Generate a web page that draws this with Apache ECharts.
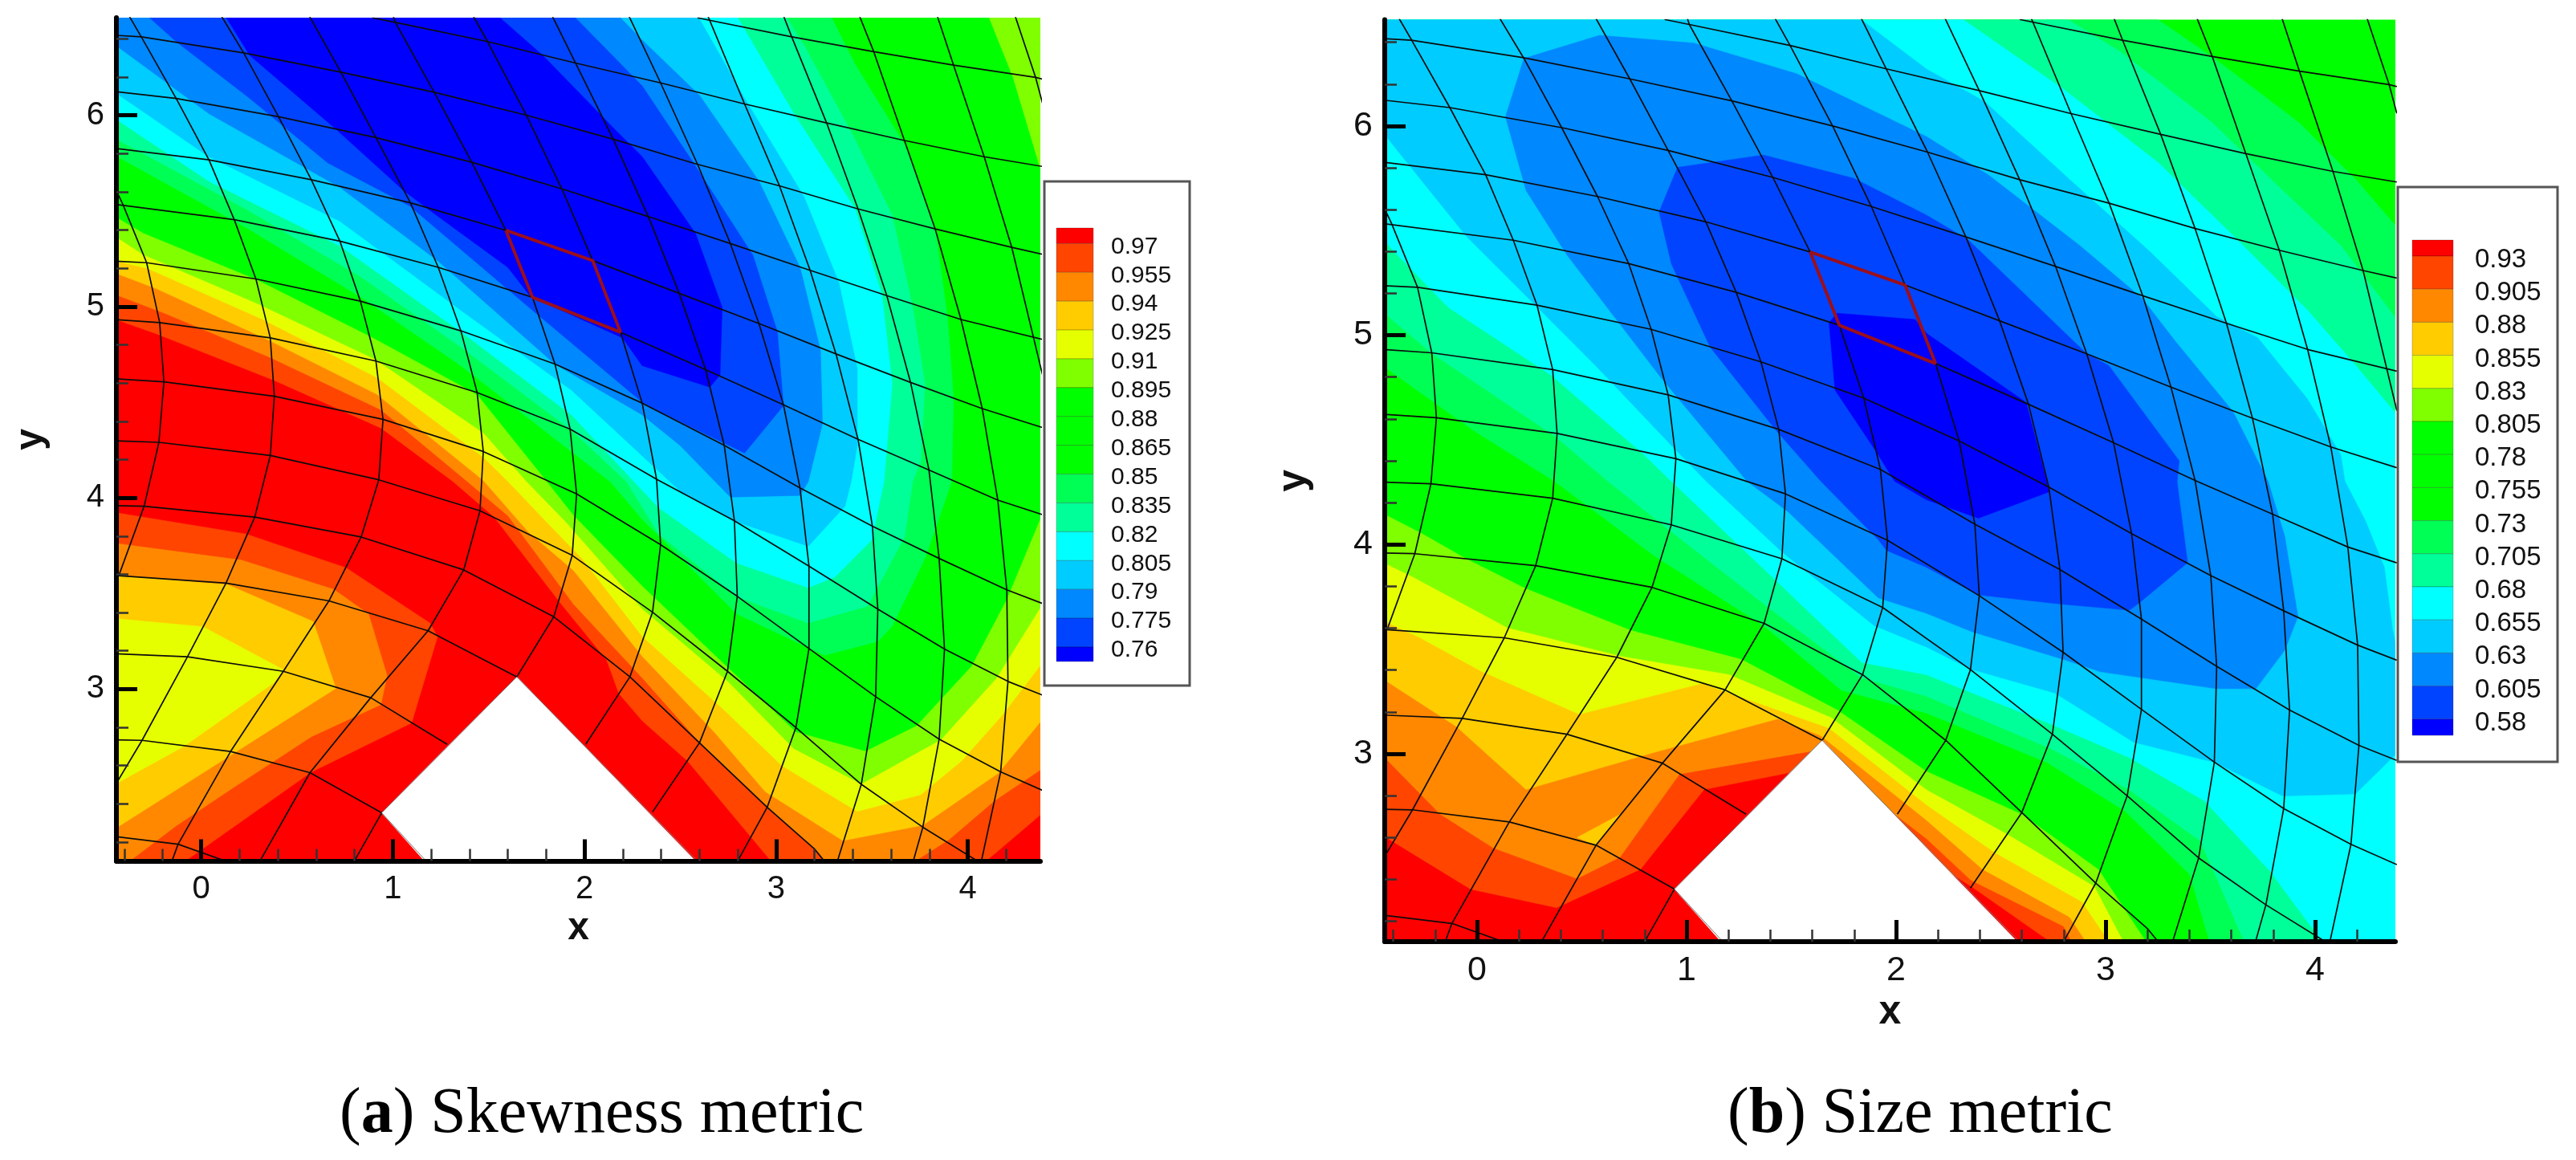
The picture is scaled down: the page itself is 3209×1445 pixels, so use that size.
<!DOCTYPE html>
<html><head><meta charset="utf-8">
<style>html,body{margin:0;padding:0;background:#fff}#c{width:3209px;height:1445px}</style>
<script src="https://cdn.jsdelivr.net/npm/echarts@6/dist/echarts.min.js"></script>
</head><body><div id="c"></div>
<script>
// ---------- categories / tick labels ----------
const xTicks=[0,1,2,3,4], yTicks=[3,4,5,6];
const xMinor=[-0.4,-0.2,0.2,0.4,0.6,0.8,1.2,1.4,1.6,1.8,2.2,2.4,2.6,2.8,3.2,3.4,3.6,3.8,4.2];
const yMinor=[2.2,2.4,2.6,2.8,3.2,3.4,3.6,3.8,4.2,4.4,4.6,4.8,5.2,5.4,5.6,5.8,6.2,6.4];
const skewLevels=['0.97','0.955','0.94','0.925','0.91','0.895','0.88','0.865','0.85','0.835','0.82','0.805','0.79','0.775','0.76'];
const sizeLevels=['0.93','0.905','0.88','0.855','0.83','0.805','0.78','0.755','0.73','0.705','0.68','0.655','0.63','0.605','0.58'];
const bandColors=['#ff0000','#ff4500','#ff8800','#ffcc00','#e6ff00','#80ff00','#00ff00','#00ff00','#00ff00','#00ff55','#00ff99','#00ffff','#00ccff','#0088ff','#0044ff','#0000ff'];

// ---------- mesh in data units (x,y) ----------
const meshH=[
[[2.590,6.509],[3.081,6.410],[3.509,6.332],[3.925,6.262],[4.353,6.198],[4.390,6.188]],
[[0.895,6.509],[1.013,6.485],[1.494,6.385],[1.953,6.273],[2.397,6.169],[2.835,6.059],[3.263,5.960],[3.669,5.868],[4.085,5.783],[4.390,5.732]],
[[-0.45,6.418],[-0.312,6.410],[0.222,6.326],[0.729,6.225],[1.216,6.120],[1.697,6.000],[2.150,5.875],[2.590,5.743],[3.017,5.631],[3.427,5.510],[3.829,5.406],[4.229,5.309],[4.390,5.273]],
[[-0.45,6.124],[-0.130,6.088],[0.404,5.992],[0.912,5.883],[1.412,5.754],[1.882,5.615],[2.333,5.470],[2.761,5.329],[3.177,5.189],[3.577,5.057],[3.964,4.932],[4.390,4.828]],
[[-0.45,5.827],[0.041,5.767],[0.575,5.663],[1.092,5.542],[1.590,5.398],[2.043,5.240],[2.494,5.069],[2.910,4.911],[3.312,4.752],[3.701,4.603],[4.075,4.466],[4.390,4.367]],
[[-0.45,5.534],[0.173,5.454],[0.724,5.342],[1.237,5.205],[1.729,5.048],[2.188,4.865],[2.632,4.670],[3.038,4.486],[3.427,4.306],[3.797,4.145],[4.156,3.988],[4.390,3.912]],
[[-0.45,5.237],[-0.284,5.229],[0.286,5.144],[0.831,5.028],[1.355,4.873],[1.846,4.699],[2.301,4.495],[2.729,4.274],[3.124,4.052],[3.502,3.851],[3.850,3.683],[4.203,3.519],[4.390,3.447]],
[[-0.45,4.932],[-0.216,4.916],[0.361,4.836],[0.912,4.715],[1.440,4.550],[1.925,4.359],[2.376,4.097],[2.782,3.880],[3.171,3.643],[3.530,3.418],[3.878,3.209],[4.209,3.040],[4.390,2.968]],
[[-0.45,4.622],[-0.194,4.606],[0.382,4.531],[0.949,4.410],[1.472,4.242],[1.959,4.020],[2.397,3.755],[2.797,3.485],[3.171,3.212],[3.519,2.960],[3.850,2.738],[4.171,2.567],[4.390,2.470]],
[[-0.45,4.298],[-0.220,4.290],[0.361,4.221],[0.927,4.094],[1.455,3.932],[1.936,3.699],[2.355,3.402],[2.746,3.093],[3.103,2.799],[3.444,2.502],[3.765,2.278],[4.068,2.09]],
[[-0.45,3.959],[-0.297,3.956],[0.280,3.899],[0.835,3.795],[1.370,3.623],[1.840,3.378],[2.237,3.064],[2.600,2.719],[2.953,2.382],[3.199,2.165],[3.260,2.09]],
[[-0.45,3.594],[0.130,3.554],[0.667,3.461],[1.184,3.305],[1.647,3.064]],
[[-0.45,3.185],[-0.071,3.169],[0.429,3.093],[0.885,2.955],[1.284,2.711]],
[[-0.45,2.735],[-0.308,2.732],[0.154,2.674],[0.568,2.563],[0.942,2.353]],
[[-0.45,2.229],[-0.120,2.189],[0.158,2.09]]
];
const meshV=[
[[-0.45,5.623],[-0.408,5.534],[-0.284,5.229],[-0.216,4.916],[-0.194,4.606],[-0.220,4.290],[-0.297,3.956],[-0.429,3.594]],
[[-0.376,6.52],[-0.312,6.410],[-0.130,6.088],[0.041,5.767],[0.173,5.454],[0.286,5.144],[0.361,4.836],[0.382,4.531],[0.361,4.221],[0.280,3.899],[0.130,3.554],[-0.071,3.169],[-0.308,2.732],[-0.45,2.494]],
[[0.105,6.52],[0.222,6.326],[0.404,5.992],[0.575,5.663],[0.724,5.342],[0.831,5.028],[0.912,4.715],[0.949,4.410],[0.927,4.094],[0.835,3.795],[0.667,3.461],[0.429,3.093],[0.154,2.674],[-0.120,2.189],[-0.156,2.09]],
[[0.564,6.52],[0.729,6.225],[0.912,5.883],[1.092,5.542],[1.237,5.205],[1.355,4.873],[1.440,4.550],[1.472,4.242],[1.455,3.932],[1.370,3.623],[1.184,3.305],[0.885,2.955],[0.568,2.563],[0.301,2.09]],
[[1.002,6.52],[1.013,6.485],[1.216,6.120],[1.412,5.754],[1.590,5.398],[1.729,5.048],[1.846,4.699],[1.925,4.359],[1.959,4.020],[1.936,3.699],[1.840,3.378],[1.647,3.064]],
[[0.942,2.353],[0.793,2.09]],
[[1.419,6.52],[1.494,6.385],[1.697,6.000],[1.882,5.615],[2.043,5.240],[2.188,4.865],[2.301,4.495],[2.376,4.097],[2.397,3.755],[2.355,3.402],[2.237,3.064],[2.006,2.711]],
[[1.831,6.52],[1.953,6.273],[2.150,5.875],[2.333,5.470],[2.494,5.069],[2.632,4.670],[2.729,4.274],[2.782,3.880],[2.797,3.485],[2.746,3.093],[2.600,2.719],[2.355,2.358]],
[[2.231,6.52],[2.397,6.169],[2.590,5.743],[2.761,5.329],[2.910,4.911],[3.038,4.486],[3.124,4.052],[3.171,3.643],[3.171,3.212],[3.103,2.799],[2.953,2.382],[2.793,2.09]],
[[2.643,6.52],[2.835,6.059],[3.017,5.631],[3.177,5.189],[3.312,4.752],[3.427,4.306],[3.502,3.851],[3.530,3.418],[3.519,2.960],[3.444,2.502],[3.316,2.09]],
[[3.038,6.52],[3.081,6.410],[3.263,5.960],[3.427,5.510],[3.577,5.057],[3.701,4.603],[3.797,4.145],[3.850,3.683],[3.878,3.209],[3.850,2.738],[3.765,2.278],[3.712,2.09]],
[[3.434,6.52],[3.509,6.332],[3.669,5.868],[3.829,5.406],[3.964,4.932],[4.075,4.466],[4.156,3.988],[4.203,3.519],[4.209,3.040],[4.171,2.567],[4.068,2.09]],
[[3.840,6.52],[3.925,6.262],[4.085,5.783],[4.229,5.309],[4.390,4.640]],
[[4.246,6.52],[4.353,6.198],[4.390,6.060]]
];
const studiedCell=[[1.590,5.398],[2.043,5.240],[2.188,4.865],[1.729,5.048],[1.590,5.398]];
const wallHole=[[0.942,2.353],[1.647,3.064],[2.590,2.09],[1.175,2.09]];
const wallEdge=[[1.175,2.10],[0.942,2.353],[1.647,3.064],[2.590,2.10]];
const domainRect=[[-0.45,6.52],[4.39,6.52],[4.39,2.09],[-0.45,2.09]];

// ---------- skewness contour bands (x,y) ----------
const skew855=[[-0.45,6.52],[3.284,6.52],[3.412,6.265],[3.669,5.847],[3.829,5.406],[3.893,4.948],[3.925,4.515],[3.915,4.084],[3.776,3.683],[3.605,3.329],[3.530,3.249],[3.252,3.177],[3.167,3.217],[2.793,3.394],[2.301,3.888],[2.135,4.084],[1.932,4.242],[1.355,4.691],[0.842,5.044],[0.233,5.414],[-0.45,5.791]];
const skew840=[[-0.45,6.52],[3.049,6.52],[3.156,6.345],[3.391,5.912],[3.605,5.478],[3.712,4.996],[3.776,4.595],[3.754,4.193],[3.712,4.084],[3.669,3.795],[3.476,3.434],[3.167,3.346],[2.793,3.483],[2.387,3.811],[2.220,4.084],[1.932,4.354],[1.355,4.788],[0.831,5.157],[0.233,5.510],[-0.45,5.880]];
const skew825=[[-0.45,6.52],[2.793,6.52],[3.092,6.008],[3.412,5.510],[3.551,5.061],[3.605,4.595],[3.562,4.084],[3.498,3.779],[3.306,3.586],[3.167,3.530],[2.793,3.659],[2.387,3.948],[1.932,4.434],[1.355,4.868],[0.724,5.317],[0.041,5.655],[-0.45,5.984]];
const skew810=[[-0.45,6.52],[2.590,6.52],[2.835,6.088],[3.145,5.574],[3.327,5.125],[3.423,4.675],[3.423,4.274],[3.391,4.084],[3.359,3.956],[3.167,3.747],[2.793,3.875],[2.515,4.020],[1.932,4.563],[1.355,4.980],[0.724,5.446],[0.041,5.783],[-0.45,6.120]];
const skew795=[[-0.45,6.52],[2.177,6.52],[2.301,6.393],[2.600,6.104],[2.910,5.655],[3.124,5.205],[3.231,4.771],[3.241,4.386],[3.167,4.084],[3.124,4.012],[2.761,4.004],[2.498,4.274],[2.301,4.434],[1.846,4.699],[1.237,5.237],[0.724,5.623],[0.041,6.008],[-0.45,6.369]];
const skew780=[[-0.28,6.52],[1.942,6.52],[2.301,6.153],[2.568,5.751],[2.878,5.269],[3.006,4.868],[3.038,4.482],[2.835,4.234],[2.323,4.482],[1.729,4.980],[1.088,5.526],[0.660,5.751],[0.254,6.088],[-0.130,6.385]];
const skew765=[[0.126,6.52],[1.547,6.52],[1.782,6.313],[2.156,5.928],[2.301,5.783],[2.579,5.382],[2.718,4.996],[2.707,4.643],[2.654,4.579],[2.301,4.691],[2.199,4.836],[1.718,5.053],[1.600,5.205],[1.216,5.486],[1.056,5.607],[0.703,5.928],[0.254,6.313]];
const skewLimeCorner=[[4.107,6.52],[4.235,6.201],[4.374,5.735],[4.39,5.687],[4.39,6.52]];
const skewLime=[[-0.45,5.470],[-0.301,5.382],[0.286,5.141],[0.895,4.836],[1.440,4.539],[1.803,4.084],[1.942,3.908],[2.301,3.538],[2.739,3.120],[3.103,2.775],[3.466,2.674],[3.733,2.807],[3.872,2.959],[4.021,3.120],[4.203,3.466],[4.39,3.916],[4.39,2.09],[-0.45,2.09]];
const skewYellow=[[-0.45,5.366],[-0.301,5.269],[0.297,5.012],[0.906,4.723],[1.472,4.338],[1.697,4.084],[1.900,3.875],[2.301,3.418],[2.746,3.040],[3.092,2.687],[3.444,2.502],[3.861,2.735],[4.150,3.056],[4.39,3.442],[4.39,2.09],[-0.45,2.09]];
const skewGold=[[-0.45,5.237],[-0.280,5.197],[0.318,4.932],[0.917,4.627],[1.472,4.210],[1.600,4.084],[1.814,3.859],[1.985,3.683],[2.301,3.273],[2.729,2.888],[3.028,2.599],[3.423,2.358],[3.754,2.446],[3.968,2.623],[4.182,2.864],[4.39,3.137],[4.39,2.09],[-0.45,2.09]];
const skewOrange=[[-0.45,5.173],[-0.237,5.093],[0.340,4.828],[0.917,4.539],[1.472,4.089],[1.707,3.819],[1.942,3.619],[2.301,3.169],[2.675,2.775],[2.942,2.462],[3.348,2.205],[3.765,2.286],[4.160,2.559],[4.39,2.840],[4.39,2.09],[-0.45,2.09]];
const skewDeep=[[-0.45,5.061],[-0.194,4.964],[0.361,4.731],[0.938,4.458],[1.387,4.084],[1.600,3.904],[1.942,3.442],[2.301,3.056],[2.600,2.719],[2.953,2.382],[3.199,2.165],[3.255,2.09],[-0.45,2.09]];
const skewDeepRight=[[3.712,2.09],[3.904,2.213],[4.139,2.414],[4.39,2.583],[4.39,2.09]];
const skewRed=[[-0.45,4.932],[-0.226,4.852],[0.382,4.611],[0.938,4.362],[1.312,4.084],[1.526,3.900],[1.878,3.442],[2.113,3.153],[2.177,2.976],[2.301,2.832],[2.536,2.623],[2.980,2.09],[-0.45,2.09]];
const skewRedRight=[[4.085,2.09],[4.39,2.350],[4.39,2.09]];
const skewPocketDeep=[[-0.45,3.923],[0.233,3.811],[0.756,3.634],[1.194,3.345],[1.233,3.273],[1.098,2.823],[0.575,2.566],[-0.098,2.09],[-0.45,2.09]];
const skewPocketOrange=[[-0.45,3.762],[0.211,3.674],[0.692,3.521],[0.874,3.392],[0.970,3.071],[0.938,2.919],[0.575,2.751],[0.158,2.478],[-0.130,2.285],[-0.387,2.09],[-0.45,2.09]];
const skewPocketGold=[[-0.45,3.594],[0.137,3.546],[0.585,3.353],[0.703,3.004],[0.179,2.670],[-0.45,2.269]];
const skewPocketYellow=[[-0.45,3.369],[0.009,3.326],[0.429,3.101],[0.378,3.032],[-0.088,2.702],[-0.45,2.502]];

// ---------- size contour bands (x,y) ----------
const size718=[[-0.45,6.52],[3.232,6.52],[3.509,6.330],[3.924,6.015],[4.201,5.736],[4.39,5.516],[4.39,2.09],[3.50,2.09],[3.401,2.424],[3.094,2.725],[2.719,2.959],[2.145,3.194],[1.739,3.304],[1.367,3.613],[0.840,3.950],[0.370,4.302],[-0.02,4.547],[-0.45,4.855]];
const size693=[[-0.45,6.52],[2.801,6.52],[3.074,6.352],[3.509,6.015],[3.845,5.692],[4.122,5.428],[4.39,5.075],[4.39,2.09],[3.667,2.09],[3.529,2.409],[3.450,2.585],[3.114,2.827],[2.738,3.025],[2.145,3.275],[1.837,3.363],[1.407,3.686],[0.938,4.053],[0.625,4.302],[0.371,4.518],[-0.216,4.914],[-0.45,5.112]];
const size668=[[-0.45,6.52],[2.303,6.52],[2.798,6.176],[3.252,5.824],[3.628,5.457],[3.964,5.119],[4.181,4.870],[4.39,4.620],[4.39,2.09],[4.043,2.09],[3.786,2.438],[3.470,2.776],[3.114,2.981],[2.738,3.142],[2.145,3.378],[1.837,3.436],[1.407,3.847],[0.928,4.302],[0.781,4.444],[0.351,4.811],[-0.138,5.134],[-0.45,5.457]];
const size643=[[-0.45,6.52],[1.817,6.52],[2.145,6.272],[2.422,6.117],[2.837,5.736],[3.213,5.398],[3.529,5.090],[3.727,4.987],[3.964,4.694],[4.122,4.429],[4.142,4.302],[4.241,4.111],[4.330,3.891],[4.369,3.598],[4.39,3.495],[4.39,3.003],[4.192,2.808],[3.845,2.798],[3.519,2.959],[3.134,3.055],[2.758,3.290],[2.357,3.404],[2.145,3.510],[1.895,3.613],[1.455,3.965],[1.094,4.302],[0.928,4.473],[0.566,4.855],[0.273,5.149],[-0.05,5.472],[-0.333,5.824],[-0.45,5.971]];
const size618=[[0.136,6.044],[0.224,6.323],[0.585,6.433],[1.035,6.396],[1.524,6.250],[2.145,5.949],[2.442,5.765],[2.877,5.428],[3.173,5.178],[3.331,4.973],[3.608,4.635],[3.776,4.300],[3.855,4.038],[3.918,3.656],[3.855,3.495],[3.717,3.311],[3.529,3.311],[2.976,3.392],[2.798,3.451],[2.363,3.583],[2.145,3.671],[1.915,3.745],[1.485,4.156],[1.289,4.302],[0.879,4.796],[0.429,5.384],[0.234,5.692]];
const size593=[[0.957,5.802],[1.367,5.861],[1.797,5.750],[2.145,5.574],[2.343,5.457],[2.907,4.914],[3.015,4.855],[3.351,4.400],[3.341,4.300],[3.391,3.913],[3.163,3.723],[3.114,3.686],[2.788,3.715],[2.393,3.759],[2.145,3.891],[1.954,3.972],[1.915,4.023],[1.641,4.302],[1.426,4.547],[1.113,4.943],[0.928,5.340],[0.869,5.589]];
const size568=[[1.680,5.061],[1.719,5.105],[2.091,5.075],[2.145,5.009],[2.620,4.679],[2.719,4.300],[2.729,4.251],[2.393,4.126],[2.145,4.214],[1.993,4.302],[1.905,4.444],[1.709,4.738]];
const sizeLime=[[-0.45,4.148],[-0.265,4.053],[-0.059,3.935],[0.234,3.788],[0.732,3.590],[1.260,3.451],[1.719,3.209],[2.145,2.915],[2.600,2.710],[2.966,2.446],[3.200,2.09],[-0.45,2.09]];
const sizeYellow=[[-0.45,3.913],[-0.313,3.847],[0.145,3.601],[0.683,3.466],[1.201,3.378],[1.690,3.172],[2.145,2.827],[2.531,2.614],[2.946,2.365],[3.090,2.09],[-0.45,2.09]];
const sizeGold=[[-0.45,3.635],[-0.275,3.554],[0.019,3.393],[0.488,3.187],[1.074,3.334],[1.680,3.121],[2.145,2.754],[2.471,2.526],[2.887,2.291],[3.022,2.09],[-0.45,2.09]];
const sizeOrange=[[-0.45,3.356],[-0.099,3.128],[0.234,2.827],[0.840,3.003],[1.436,3.165],[1.641,3.084],[2.145,2.680],[2.412,2.446],[2.827,2.218],[2.912,2.09],[-0.45,2.09]];
const sizeDeep=[[-0.45,2.989],[-0.177,2.710],[0.077,2.548],[0.478,2.401],[0.683,2.504],[0.967,2.901],[1.602,3.011],[2.145,2.592],[2.357,2.394],[2.798,2.174],[2.842,2.09],[-0.45,2.09]];
const sizeRed=[[-0.45,2.607],[-0.030,2.350],[0.380,2.262],[0.781,2.446],[1.084,2.827],[1.494,2.908],[2.357,2.365],[2.750,2.09],[-0.45,2.09]];
const sizePocketGold=[[0.478,2.600],[0.683,2.710],[0.566,2.563]];

// ---------- layers: painted in order, lowest band first ----------
const C={blue:'#0000ff',b1:'#0044ff',b2:'#0088ff',b3:'#00ccff',cy:'#00ffff',s1:'#00ff99',s2:'#00ff55',g:'#00ff00',l:'#80ff00',y:'#e6ff00',au:'#ffcc00',o:'#ff8800',d:'#ff4500',r:'#ff0000',w:'#ffffff'};
const skewLayers=[[domainRect,C.g],[skew855,C.s2],[skew840,C.s1],[skew825,C.cy],[skew810,C.b3],[skew795,C.b2],[skew780,C.b1],[skew765,C.blue],[skewLimeCorner,C.l],[skewLime,C.l],[skewYellow,C.y],[skewGold,C.au],[skewOrange,C.o],[skewDeep,C.d],[skewDeepRight,C.d],[skewRed,C.r],[skewRedRight,C.r],[skewPocketDeep,C.d],[skewPocketOrange,C.o],[skewPocketGold,C.au],[skewPocketYellow,C.y],[wallHole,C.w]];
const sizeLayers=[[domainRect,C.g],[size718,C.s2],[size693,C.s1],[size668,C.cy],[size643,C.b3],[size618,C.b2],[size593,C.b1],[size568,C.blue],[sizeLime,C.l],[sizeYellow,C.y],[sizeGold,C.au],[sizeOrange,C.o],[sizeDeep,C.d],[sizePocketGold,C.au],[sizeRed,C.r],[wallHole,C.w]];

const FONT='"Liberation Sans",Arial,sans-serif';
const plots=[
 {grid:{left:145,top:22,width:1151,height:1050.6},x:[-0.4418,4.378],y:[2.101,6.51],font:40,nameFont:48,xGap:54,yGap:82,layers:skewLayers},
 {grid:{left:1725,top:24.5,width:1259,height:1148.5},x:[-0.4406,4.383],y:[2.102,6.508],font:43,nameFont:50,xGap:56,yGap:88,layers:sizeLayers}
];
const grids=[],xAxes=[],yAxes=[],series=[];
plots.forEach((p,k)=>{
  grids.push(Object.assign({containLabel:false,show:false},p.grid));
  const line={show:true,onZero:false,lineStyle:{color:'#000',width:6}};
  xAxes.push({gridIndex:k,type:'value',position:'bottom',min:p.x[0],max:p.x[1],z:10,splitLine:{show:false},axisLine:line,
    axisTick:{show:true,inside:true,length:27,lineStyle:{color:'#000',width:5},customValues:xTicks},
    axisLabel:{show:true,margin:15,color:'#111',fontSize:p.font,fontFamily:FONT,customValues:xTicks,formatter:v=>String(v)},
    name:'x',nameLocation:'middle',nameGap:p.xGap,nameTextStyle:{fontSize:p.nameFont,fontWeight:'bold',fontFamily:FONT,color:'#111'}});
  xAxes.push({gridIndex:k,type:'value',position:'bottom',min:p.x[0],max:p.x[1],z:10,splitLine:{show:false},axisLine:{show:false,onZero:false},
    axisTick:{show:true,inside:true,length:15,lineStyle:{color:'#333',width:2.5},customValues:xMinor},axisLabel:{show:false}});
  yAxes.push({gridIndex:k,type:'value',position:'left',min:p.y[0],max:p.y[1],z:10,splitLine:{show:false},axisLine:line,
    axisTick:{show:true,inside:true,length:26,lineStyle:{color:'#000',width:5},customValues:yTicks},
    axisLabel:{show:true,margin:15,color:'#111',fontSize:p.font,fontFamily:FONT,customValues:yTicks,formatter:v=>String(v)},
    name:'y',nameLocation:'middle',nameGap:p.yGap,nameTextStyle:{fontSize:p.nameFont,fontWeight:'bold',fontFamily:FONT,color:'#111'}});
  yAxes.push({gridIndex:k,type:'value',position:'left',min:p.y[0],max:p.y[1],z:10,splitLine:{show:false},axisLine:{show:false,onZero:false},
    axisTick:{show:true,inside:true,length:15,lineStyle:{color:'#333',width:2.5},customValues:yMinor},axisLabel:{show:false}});
  const xi=k*2,yi=k*2;
  series.push({type:'custom',xAxisIndex:xi,yAxisIndex:yi,coordinateSystem:'cartesian2d',clip:true,silent:true,animation:false,z:2,
    data:p.layers.map((l,i)=>[l[0][0][0],l[0][0][1],i]),
    renderItem:(params,api)=>{const l=p.layers[params.dataIndex];
      return {type:'polygon',shape:{points:l[0].map(q=>api.coord(q))},style:{fill:l[1],stroke:l[1],lineWidth:0.6}};}});
  meshH.concat(meshV).forEach(m=>series.push({type:'line',xAxisIndex:xi,yAxisIndex:yi,data:m,showSymbol:false,silent:true,animation:false,z:3,clip:true,lineStyle:{color:'#0c0c0c',width:1.7}}));
  series.push({type:'line',xAxisIndex:xi,yAxisIndex:yi,data:wallEdge,showSymbol:false,silent:true,animation:false,z:3,lineStyle:{color:'#777',width:1}});
  series.push({type:'line',xAxisIndex:xi,yAxisIndex:yi,data:studiedCell,showSymbol:false,silent:true,animation:false,z:4,lineStyle:{color:'#9c0f1a',width:4}});
});

// legends
function legend(levels,box,blocks,step,first,textX,font,dy){
  const els=[{type:'rect',shape:{x:box[0],y:box[1],width:box[2]-box[0],height:box[3]-box[1]},style:{fill:'#fff',stroke:'#555',lineWidth:3},z:20}];
  bandColors.forEach((c,i)=>{
    const top=i===0?blocks[2]:first+step*(i-1), bot=i===15?blocks[3]:first+step*i;
    els.push({type:'rect',shape:{x:blocks[0],y:top,width:blocks[1]-blocks[0],height:bot-top},style:{fill:c,stroke:'rgba(0,0,0,0.22)',lineWidth:1},z:21});
  });
  levels.forEach((t,i)=>els.push({type:'text',x:textX,y:first+step*i+dy,style:{text:t,fill:'#111',font:font+'px '+FONT,textVerticalAlign:'middle',textAlign:'left'},z:21}));
  return els;
}
const graphics=[...legend(skewLevels,[1301,226,1482,854],[1316,1362,284,824],35.9,303.4,1384,30,4),
                ...legend(sizeLevels,[2987,233,3186,949],[3005,3056,299,916],41.2,319,3083,33,5)];
const serif='"Liberation Serif",serif';
const capRich={p:{fontSize:80,fontWeight:'normal',fontFamily:serif,color:'#000'},b:{fontSize:80,fontWeight:'bold',fontFamily:serif,color:'#000'}};
const chart=echarts.init(document.getElementById('c'),null,{renderer:'canvas'});
chart.setOption({animation:false,backgroundColor:'#fff',
  title:[{text:'{p|(}{b|a}{p|) Skewness metric}',left:423,top:1349,padding:0,textStyle:{fontWeight:'normal',rich:capRich}},
         {text:'{p|(}{b|b}{p|) Size metric}',left:2152,top:1349,padding:0,textStyle:{fontWeight:'normal',rich:capRich}}],
  grid:grids,xAxis:xAxes,yAxis:yAxes,series:series,graphic:{elements:graphics}});
</script></body></html>
